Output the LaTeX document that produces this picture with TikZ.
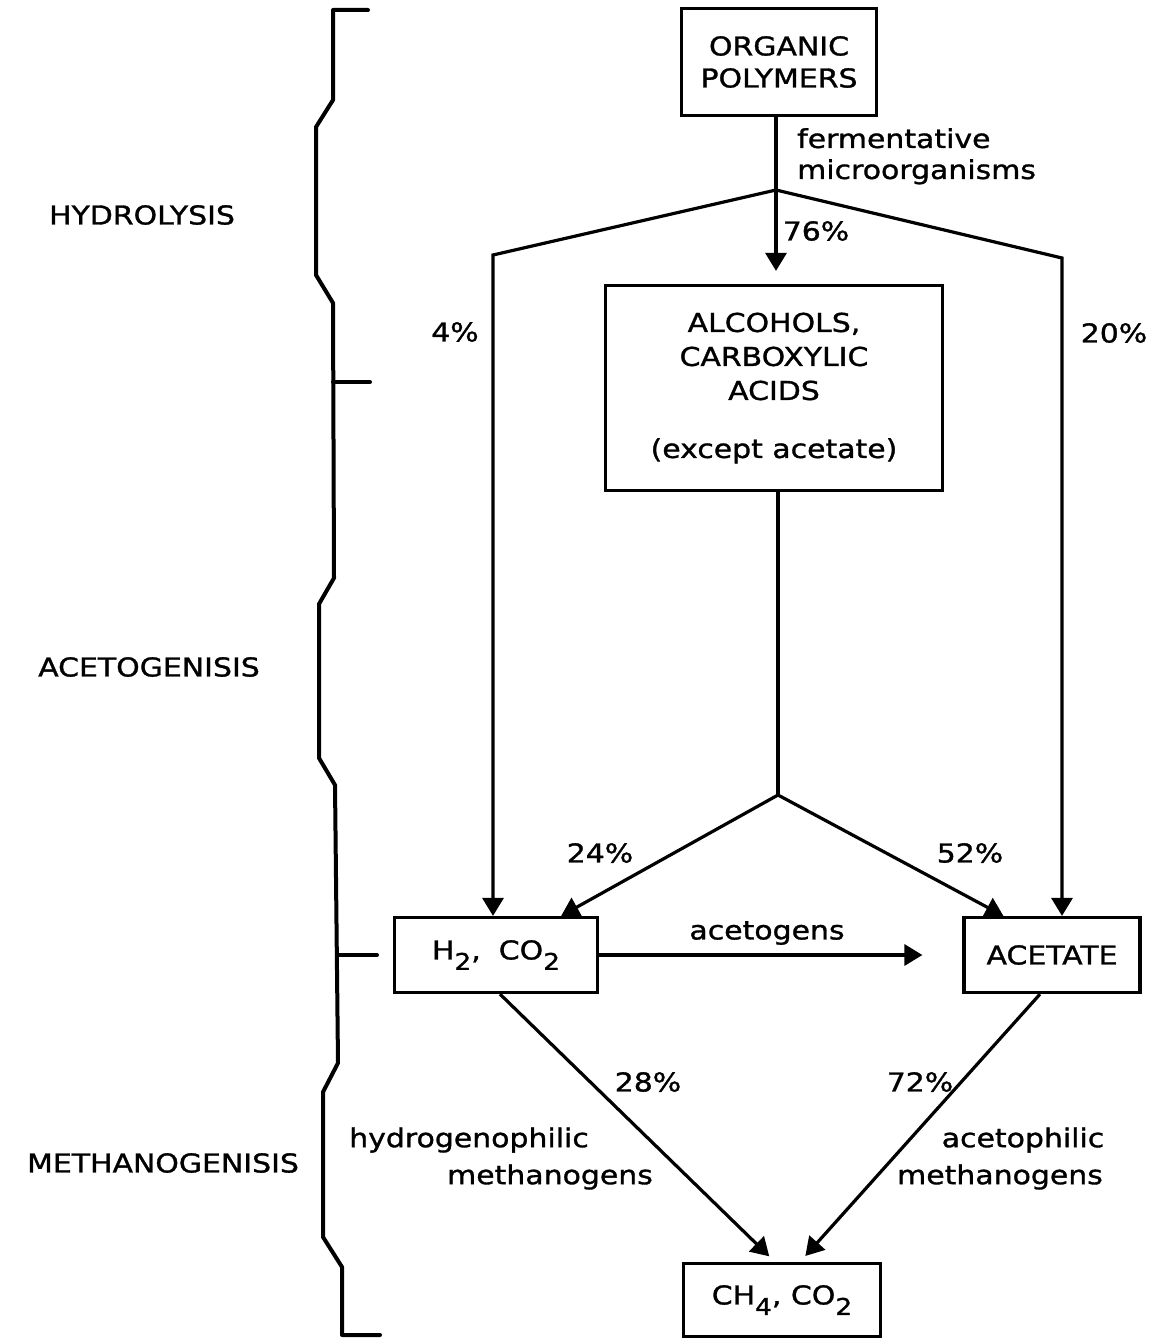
\documentclass[tikz,border=0pt]{standalone}
\usepackage{fontspec}
\setmainfont{DejaVu Sans}[FakeStretch=1.15, FakeBold=1.2]
\usetikzlibrary{arrows.meta, positioning, calc}

\newcommand{\lowsub}[1]{\raisebox{-0.4em}{\fontsize{23}{23}\selectfont #1}}

\begin{document}
\begin{tikzpicture}[x=1pt, y=-1pt,
  every node/.style = {font=\fontsize{26}{32}\selectfont},
  box/.style   = {rectangle, draw, line width=3.2pt, align=center, inner sep=0},
  lbl/.style   = {inner sep=0},
  link/.style  = {line width=3.2pt},
  flow/.style  = {line width=3.2pt, -{Triangle[length=18pt, width=21pt]}},
  brace/.style = {line width=4pt, line join=round, line cap=round},
]
\useasboundingbox (0,0) rectangle (1162,1338);
% ── stage brace ──
\draw[brace] (368,10) -- (333,10) -- (333,100) -- (316,127) -- (316,275) -- (333,303)
  -- (334,578) -- (319,604) -- (319,758) -- (335,785)
  -- (338,1063) -- (323,1092) -- (323,1237) -- (342,1267) -- (342,1335) -- (380,1335);
\draw[brace] (333,382) -- (370,382);
\draw[brace] (338,955) -- (377,955);
\node[lbl] (hyd) at (142, 215) {HYDROLYSIS};
\node[lbl] (acg) at (149, 667) {ACETOGENISIS};
\node[lbl] (mtg) at (163, 1163) {METHANOGENISIS};
% ── boxes ──
\node[box, minimum width=195pt, minimum height=107pt] (poly) at (779, 62) {ORGANIC\\POLYMERS};
\node[box, minimum width=337pt, minimum height=205pt, font=\fontsize{26}{34}\selectfont]
  (alc) at (774, 388) {ALCOHOLS,\\CARBOXYLIC\\ACIDS\\[24pt](except acetate)};
\node[box, minimum width=203pt, minimum height=75pt] (h2) at (496, 955)
  {H\lowsub{2},\hspace{18pt}CO\lowsub{2}};
\node[box, minimum width=176pt, minimum height=75pt] (acet) at (1052, 955) {ACETATE};
\node[box, minimum width=197pt, minimum height=73pt] (ch4) at (782, 1300)
  {CH\lowsub{4}, CO\lowsub{2}};
% ── branch points ──
\coordinate (jtop)  at (776, 190);
\coordinate (jmid)  at (778, 795);
\coordinate (lbend) at (493, 255);
\coordinate (rbend) at (1062, 258);
% ── connectors ──
\draw[link] (poly.south -| jtop) -- (jtop);
\draw[flow, shorten >=13pt] (jtop) -- (alc.north -| jtop);
\draw[flow] (jtop) -- (lbend) -- (lbend |- h2.north);
\draw[flow] (jtop) -- (rbend) -- (rbend |- acet.north);
\draw[link] (alc.south -| jmid) -- (jmid);
\draw[flow] (jmid) -- ([xshift=-38pt]h2.north east);
\draw[flow] (jmid) -- ([xshift=41pt]acet.north west);
\draw[flow, shorten >=40pt] (h2) -- (acet);
\draw[flow, shorten >=8pt] ([xshift=4pt]h2.south) -- ([xshift=-7pt]ch4.north);
\draw[flow, shorten >=8pt] ([xshift=-12pt]acet.south) -- ([xshift=18pt]ch4.north);
% ── labels ──
\node[lbl, anchor=north west, align=left, font=\fontsize{26}{31}\selectfont]
  (ferm) at (797, 128) {fermentative\\microorganisms};
\node[lbl] (p76) at (816, 231) {76\%};
\node[lbl] (p4)  at (455, 332) {4\%};
\node[lbl] (p20) at (1114, 333) {20\%};
\node[lbl] (p24) at (600, 853) {24\%};
\node[lbl] (p52) at (970, 853) {52\%};
\node[lbl] (acgn) at (767, 933) {acetogens};
\node[lbl] (p28) at (648, 1082) {28\%};
\node[lbl] (p72) at (920, 1082) {72\%};
\node[lbl] (hyd1) at (469, 1140) {hydrogenophilic};
\node[lbl] (hyd2) at (550, 1177) {methanogens};
\node[lbl] (ace1) at (1023, 1140) {acetophilic};
\node[lbl] (ace2) at (1000, 1177) {methanogens};
\end{tikzpicture}
\end{document}
